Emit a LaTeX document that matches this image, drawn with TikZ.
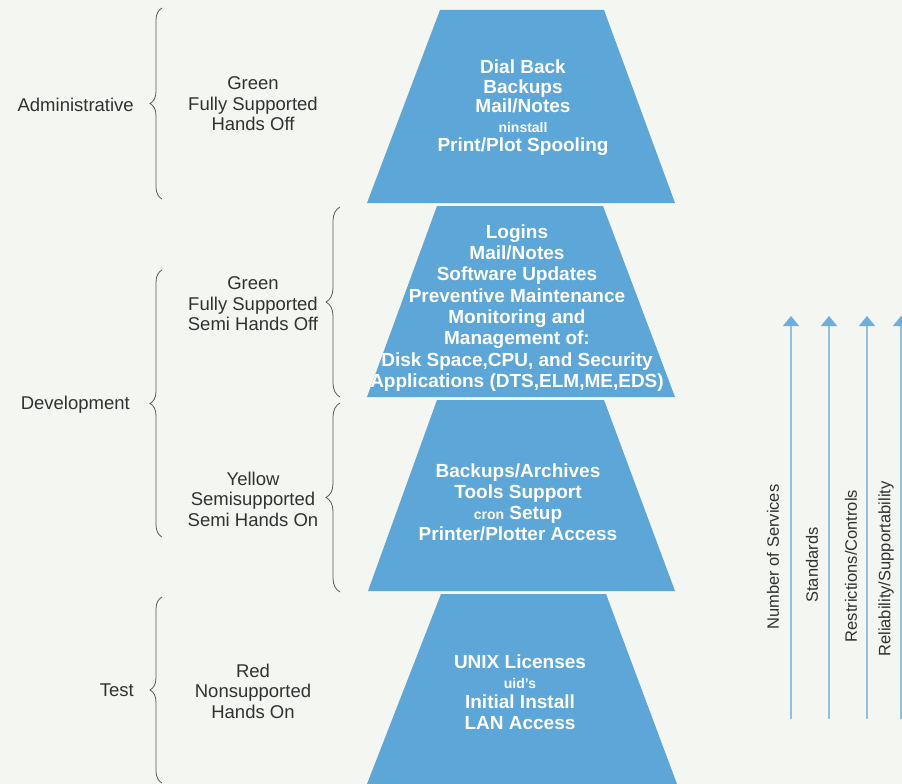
\documentclass[tikz,border=0pt]{standalone}
\usepackage{fontspec}
\setmainfont{Liberation Sans}
\usetikzlibrary{decorations.pathreplacing,arrows.meta}
\definecolor{tierblue}{RGB}{92,166,216}
\definecolor{bgpaper}{RGB}{244,246,242}
\definecolor{inkgray}{RGB}{50,50,50}
\definecolor{bracegray}{RGB}{90,90,90}
\definecolor{arrowblue}{RGB}{108,175,222}
\definecolor{arrowline}{RGB}{150,192,218}
\newcommand\tinytxt[1]{{\fontsize{14}{15}\selectfont #1}}
\begin{document}
\begin{tikzpicture}[x=1pt,y=-1pt,
  tier/.style={fill=tierblue},
  tiertext/.style={text=white,align=center,inner sep=0pt,font=\fontsize{19}{#1}\selectfont\bfseries},
  lefttext/.style={text=inkgray,inner sep=0pt,font=\fontsize{18.5}{20.5}\selectfont},
  grouptext/.style={text=inkgray,inner sep=0pt,align=center,font=\fontsize{18.5}{20.5}\selectfont},
  arrowtext/.style={text=inkgray,inner sep=0pt,rotate=90,font=\fontsize{16.5}{19}\selectfont},
  bracestyle/.style={draw=bracegray,line width=0.8pt,decorate,decoration={brace,amplitude=#1}},
  levelarrow/.style={draw=arrowline,line width=1.1pt,-{Triangle[width=16pt,length=10pt,color=arrowblue]}}
]
\fill[bgpaper] (0,0) rectangle (902,784);
\useasboundingbox (0,0) rectangle (902,784);

% tiers
\fill[tier] (440,10) -- (604,10) -- (675,203) -- (367,203) -- cycle;
\fill[tier] (437,206) -- (603,206) -- (675,397) -- (367,397) -- cycle;
\fill[tier] (437,400) -- (604,400) -- (675,591) -- (368,591) -- cycle;
\fill[tier] (441,594) -- (606,594) -- (677,784) -- (367,784) -- cycle;

\node[tiertext=19.5] (t1) at (523,108) {Dial Back\\Backups\\Mail/Notes\\\tinytxt{ninstall}\\Print/Plot Spooling};
\node[tiertext=21.3] (t2) at (517,308) {Logins\\Mail/Notes\\Software Updates\\Preventive Maintenance\\Monitoring and\\Management of:\\Disk Space,CPU, and Security\\Applications (DTS,ELM,ME,EDS)};
\node[tiertext=21] (t3) at (518,502) {Backups/Archives\\Tools Support\\\tinytxt{cron} Setup\\Printer/Plotter Access};
\node[tiertext=20.3] (t4) at (520,692) {UNIX Licenses\\\tinytxt{uid's}\\Initial Install\\LAN Access};

% left labels
\node[lefttext,anchor=east] (admin) at (134,105) {Administrative};
\node[lefttext,anchor=east] (dev) at (130,405) {Development};
\node[lefttext,anchor=east] (test) at (134,690) {Test};

\node[grouptext] (g1) at (253,104) {Green\\Fully Supported\\Hands Off};
\node[grouptext] (g2) at (253,304) {Green\\Fully Supported\\Semi Hands Off};
\node[grouptext] (g3) at (253,499) {Yellow\\Semisupported\\Semi Hands On};
\node[grouptext] (g4) at (253,691) {Red\\Nonsupported\\Hands On};

% braces
\coordinate (b1s) at (162,199); \coordinate (b1e) at (162,8);
\coordinate (b2s) at (162,537); \coordinate (b2e) at (162,270);
\coordinate (b3s) at (162,783); \coordinate (b3e) at (162,597);
\coordinate (b4s) at (340,397); \coordinate (b4e) at (340,207);
\coordinate (b5s) at (340,592); \coordinate (b5e) at (340,403);
\draw[bracestyle=12pt] (b1s) -- (b1e);
\draw[bracestyle=12pt] (b2s) -- (b2e);
\draw[bracestyle=12pt] (b3s) -- (b3e);
\draw[bracestyle=14pt] (b4s) -- (b4e);
\draw[bracestyle=14pt] (b5s) -- (b5e);

% arrows
\coordinate (a1b) at (791,719); \coordinate (a1t) at (791,316);
\coordinate (a2b) at (829,719); \coordinate (a2t) at (829,316);
\coordinate (a3b) at (867,719); \coordinate (a3t) at (867,316);
\coordinate (a4b) at (901,719); \coordinate (a4t) at (901,316);
\draw[levelarrow] (a1b) -- (a1t);
\draw[levelarrow] (a2b) -- (a2t);
\draw[levelarrow] (a3b) -- (a3t);
\draw[levelarrow] (a4b) -- (a4t);

\node[arrowtext] (nserv) at (773,557) {Number of Services};
\node[arrowtext] (stds) at (812,565) {Standards};
\node[arrowtext] (restr) at (851,566) {Restrictions/Controls};
\node[arrowtext] (relia) at (886,569) {Reliability/Supportability};
\end{tikzpicture}
\end{document}
